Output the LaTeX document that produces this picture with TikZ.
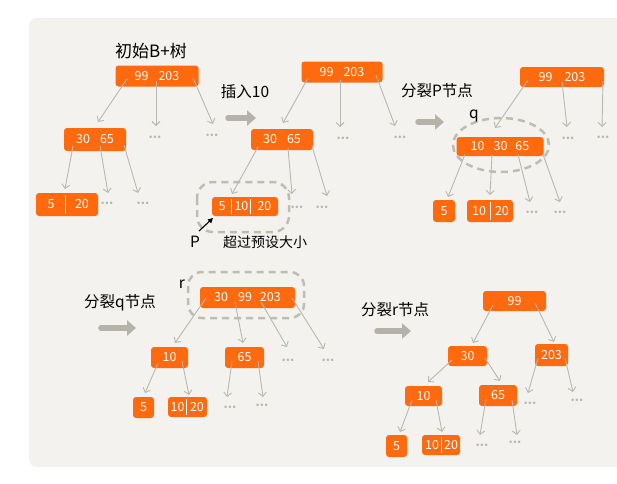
\documentclass[tikz,border=0pt]{standalone}
\usepackage{fontspec}
\setmainfont{Liberation Sans}
\newfontfamily\cjk{Noto Sans CJK SC}
\usetikzlibrary{calc,arrows.meta}
\definecolor{orng}{HTML}{FF6A0E}
\definecolor{panelc}{HTML}{F3F2EE}
\definecolor{connc}{HTML}{BAB7B0}
\definecolor{bigc}{HTML}{B5B2AA}
\definecolor{dashc}{HTML}{BFBCB5}
\newcommand\cnlink[4]{\draw[cn] ($(#1)+(#2)$) -- ($(#3)+(#4)$);}
\newcommand\divat[2]{\draw[divl] ([xshift=#2pt,yshift=-2pt]#1.north west) -- ([xshift=#2pt,yshift=2pt]#1.south west);}
\begin{document}
\begin{tikzpicture}[x=1pt,y=-1pt,
 bnode/.style={fill=orng, rounded corners=3pt, text=white, inner sep=0pt, minimum height=21pt, font=\cjk\fontsize{12.5}{12.5}\selectfont},
 cn/.style={draw=connc, line width=0.9pt, -{Straight Barb[length=4pt,width=8pt]}},
 dots/.style={text=connc, font=\cjk\bfseries\fontsize{12}{12}\selectfont, inner sep=0pt},
 big/.style={draw=bigc, line width=5.5pt, line cap=round, -{Triangle[length=9pt,width=15pt]}},
 lbl/.style={font=\cjk\fontsize{15.5}{15.5}\selectfont, inner sep=0pt},
 dsh/.style={draw=dashc, line width=2.5pt, dash pattern=on 7pt off 5pt},
 divl/.style={draw=white, line width=0.8pt}
]
\useasboundingbox (0,0) rectangle (617,483);
\fill[white] (0,0) rectangle (617,483);
\fill[panelc, rounded corners=8pt] (29,18) rectangle (640,467);

% ---------- Tree 1 ----------
\node[lbl, font=\cjk\fontsize{17}{17}\selectfont] (t1) at (151,51) {初始B+树};
\node[bnode, minimum width=83pt] (n1r) at (157,76) {99\hspace{10pt}203};
\node[bnode, minimum width=62pt, minimum height=23pt] (n1a) at (95,139.5) {30\hspace{10pt}65};
\node[bnode, minimum width=62pt, minimum height=23pt] (n1l) at (67,204.5) {\makebox[30pt]{5}\makebox[32pt]{20}};
\divat{n1l}{30}
\node[dots] (d1a) at (155,137) {...};
\node[dots] (d1b) at (212,135) {...};
\node[dots] (d1c) at (107,203) {...};
\node[dots] (d1d) at (143,203) {...};
\cnlink{n1r}{-30,3}{n1a}{3,-17.5}
\cnlink{n1r}{-1,5}{d1a}{1,-11}
\cnlink{n1r}{36,2}{d1b}{1,-11}
\cnlink{n1a}{-22,6.5}{n1l}{-2,-15.5}
\cnlink{n1a}{5,6.5}{d1c}{1,-10}
\cnlink{n1a}{29,5.5}{d1d}{-5,-10}

% arrow 1
\node[lbl] (t2) at (245,92) {插入10};
\draw[big] (228,118) -- (256,118);

% ---------- Tree 2 ----------
\node[bnode, minimum width=81pt] (n2r) at (342,72) {99\hspace{10pt}203};
\node[bnode, minimum width=62pt] (n2a) at (282,139.5) {30\hspace{10pt}65};
\node[bnode, minimum width=66pt, minimum height=19pt] (n2l) at (245,206.5) {\makebox[20pt]{5}\makebox[19pt]{10}\makebox[27pt]{20}};
\divat{n2l}{20}
\divat{n2l}{39}
\draw[dsh, rounded corners=16pt] ($(n2l)+(-48,-24.5)$) rectangle ($(n2l)+(44,25.5)$);
\node[dots] (d2a) at (343,138) {...};
\node[dots] (d2b) at (400,137) {...};
\node[dots] (d2c) at (297,207) {...};
\node[dots] (d2d) at (322,207) {...};
\cnlink{n2r}{-34,6}{n2a}{1,-16.5}
\cnlink{n2r}{-2,8}{d2a}{-3,-11}
\cnlink{n2r}{34,3}{d2b}{-5,-11}
\cnlink{n2a}{-24,7.5}{n2l}{-13,-12.5}
\cnlink{n2a}{6,8.5}{d2c}{-5,-13}
\cnlink{n2a}{30,6.5}{d2d}{5,-11}
\node[lbl] (p) at (195,242) {P};
\draw[line width=1.1pt, -{Triangle[length=5pt,width=5pt]}] ($(p)+(4,-11)$) -- ($(n2l)+(-32,11.5)$);
\node[lbl, font=\cjk\fontsize{14}{14}\selectfont] (t3) at (265,242) {超过预设大小};

% arrow 2
\node[lbl] (t4) at (437,91) {分裂P节点};
\draw[big] (418,122) -- (444,122);

% ---------- Tree 3 ----------
\node[bnode, minimum width=84pt, minimum height=20pt] (n3r) at (562,77) {99\hspace{12pt}203};
\node[bnode, minimum width=87pt, minimum height=19pt] (n3a) at (500,146.5) {10\hspace{9pt}30\hspace{8pt}65};
\draw[dsh] ($(n3a)+(1,-1.5)$) ellipse [x radius=48pt, y radius=27pt];
\node[lbl] (q) at (474,116) {q};
\node[bnode, minimum width=22pt, minimum height=22pt] (n3l1) at (444,211) {5};
\node[bnode, minimum width=46pt, minimum height=22pt] (n3l2) at (490,211) {\makebox[24pt]{10}\makebox[22pt]{20}};
\divat{n3l2}{24}
\node[dots] (d3a) at (568,138) {...};
\node[dots] (d3b) at (603,137) {...};
\node[dots] (d3c) at (532,212) {...};
\node[dots] (d3d) at (560,212) {...};
\cnlink{n3r}{-34,3}{n3a}{-5,-18.5}
\cnlink{n3r}{0,5}{d3a}{-1,-11}
\cnlink{n3r}{41,4}{d3b}{-1,-10}
\cnlink{n3a}{-35,8}{n3l1}{4,-14}
\cnlink{n3a}{-8,8}{n3l2}{0,-16}
\cnlink{n3a}{18,8}{d3c}{-2,-10}
\cnlink{n3a}{43,8}{d3d}{0,-10}

% arrow 3
\node[lbl] (t5) at (120,303) {分裂q节点};
\draw[big] (101,328) -- (136,328);

% ---------- Tree 4 ----------
\node[bnode, minimum width=95pt] (n4r) at (247.5,297.5) {30\hspace{10pt}99\hspace{8pt}203};
\draw[dsh, rounded corners=14pt] ($(n4r)+(-59.5,-25.5)$) rectangle ($(n4r)+(56.5,20.5)$);
\node[lbl] (r) at (182,284) {r};
\node[bnode, minimum width=37pt] (n4a) at (169.5,357.5) {10};
\node[bnode, minimum width=39pt] (n4b) at (244.5,357.5) {65};
\node[bnode, minimum width=21pt] (n4l1) at (143.5,407.5) {5};
\node[bnode, minimum width=39pt, minimum height=20pt] (n4l2) at (187.5,407) {\makebox[19pt]{10}\makebox[20pt]{20}};
\divat{n4l2}{19}
\node[dots] (d4a) at (288,360) {...};
\node[dots] (d4b) at (328,360) {...};
\node[dots] (d4c) at (230,407) {...};
\node[dots] (d4d) at (262,405) {...};
\cnlink{n4r}{-41.5,0.5}{n4a}{5.5,-14.5}
\cnlink{n4r}{-12.5,4.5}{n4b}{-1.5,-14.5}
\cnlink{n4r}{13.5,4.5}{d4a}{-1,-13}
\cnlink{n4r}{44.5,0.5}{d4b}{-4,-11}
\cnlink{n4a}{-11.5,5.5}{n4l1}{1.5,-14.5}
\cnlink{n4a}{12.5,3.5}{n4l2}{1.5,-12}
\cnlink{n4b}{-12.5,3.5}{d4c}{-3,-10}
\cnlink{n4b}{13.5,3.5}{d4d}{1,-8}

% arrow 4
\node[lbl] (t6) at (395,310) {分裂r节点};
\draw[big] (377,331) -- (411,331);

% ---------- Tree 5 ----------
\node[bnode, minimum width=63pt, minimum height=20pt] (n5r) at (514.5,301) {99};
\node[bnode, minimum width=39pt, minimum height=20pt] (n5a) at (467.5,356) {30};
\node[bnode, minimum width=33pt, minimum height=22pt] (n5b) at (551.5,355) {203};
\node[bnode, minimum width=37pt, minimum height=20pt] (n5c) at (423.5,396) {10};
\node[bnode, minimum width=38pt] (n5d) at (498,395.5) {65};
\node[bnode, minimum width=21pt, minimum height=22pt] (n5e) at (396.5,446) {5};
\node[bnode, minimum width=38pt, minimum height=20pt] (n5f) at (441,445) {\makebox[20pt]{10}\makebox[18pt]{20}};
\divat{n5f}{20}
\node[dots] (d5a) at (530,403) {...};
\node[dots] (d5b) at (577,400) {...};
\node[dots] (d5c) at (482,445) {...};
\node[dots] (d5d) at (515,442) {...};
\cnlink{n5r}{-21.5,4}{n5a}{5.5,-13}
\cnlink{n5r}{20.5,2}{n5b}{2.5,-13}
\cnlink{n5a}{-15.5,4}{n5c}{4.5,-14}
\cnlink{n5a}{17.5,2}{n5d}{2,-14.5}
\cnlink{n5b}{-13.5,3}{d5a}{-2,-10}
\cnlink{n5b}{13.5,3}{d5b}{-4,-8}
\cnlink{n5c}{-11.5,4}{n5e}{3.5,-14}
\cnlink{n5c}{12.5,4}{n5f}{1,-13}
\cnlink{n5d}{-12,3.5}{d5c}{-2,-10}
\cnlink{n5d}{14,4.5}{d5d}{2,-7}
\end{tikzpicture}
\end{document}
